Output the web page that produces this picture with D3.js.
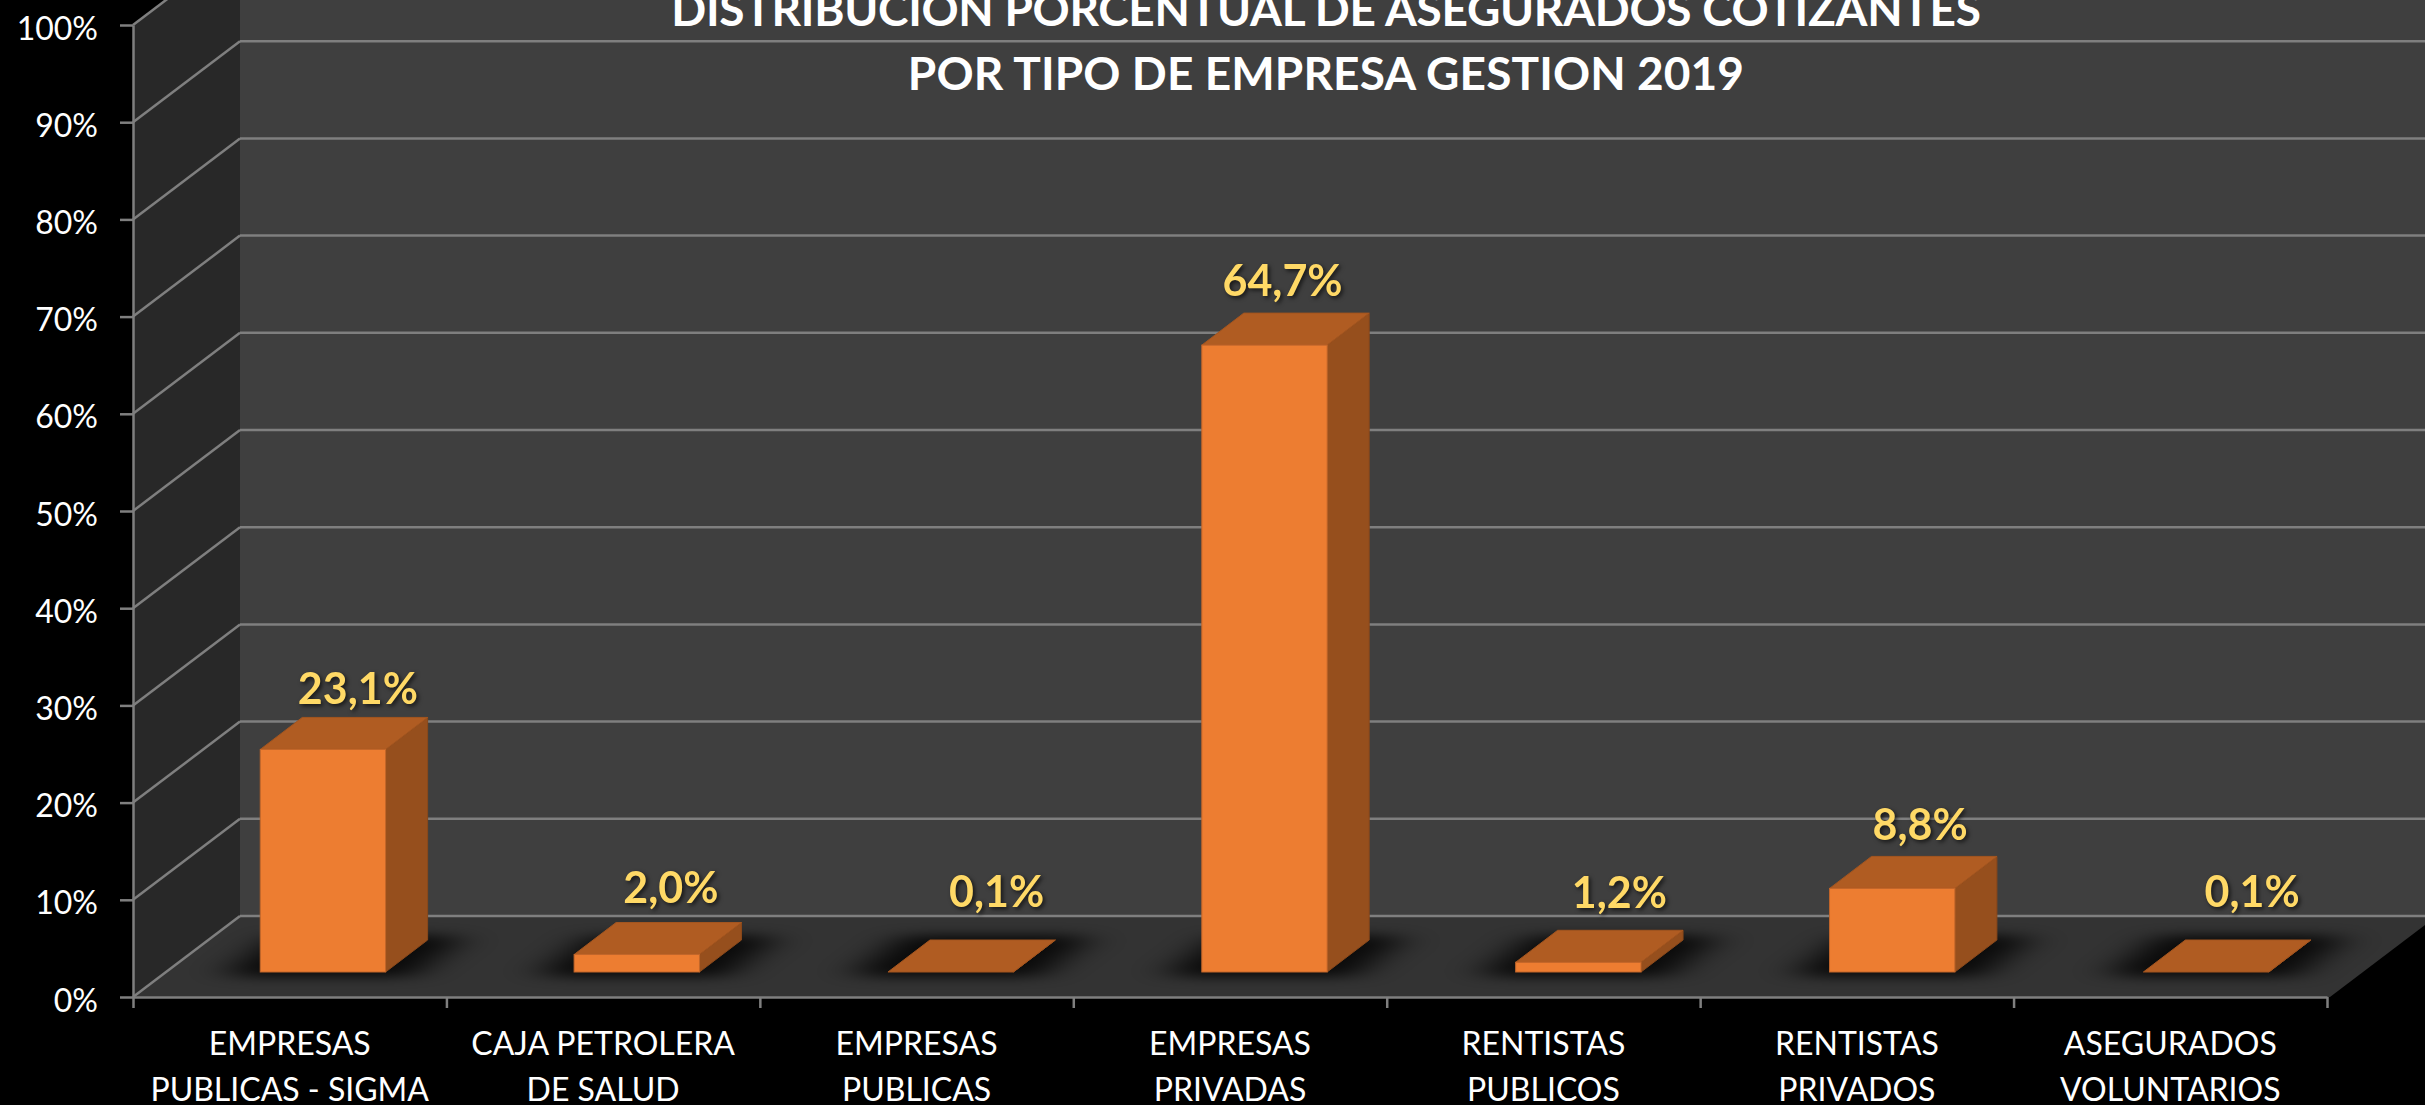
<!DOCTYPE html>
<html>
<head>
<meta charset="utf-8">
<script src="https://cdn.jsdelivr.net/npm/d3@7"></script>
<style>
	html, body { margin: 0; padding: 0; background: #000; overflow: hidden; }
	svg { display: block; }
	text { font-family: Lato, 'Open Sans', sans-serif; }
	.axis path, .axis line { stroke: #7f7f7f; stroke-width: 2.5; }
	.axis text { fill: #fff; font-size: 32px; }
</style>
</head>
<body>
<div id="chart"></div>
<script>
var categories = [
	['EMPRESAS', 'PUBLICAS - SIGMA'],
	['CAJA PETROLERA', 'DE SALUD'],
	['EMPRESAS', 'PUBLICAS'],
	['EMPRESAS', 'PRIVADAS'],
	['RENTISTAS', 'PUBLICOS'],
	['RENTISTAS', 'PRIVADOS'],
	['ASEGURADOS', 'VOLUNTARIOS']
];
var values = [23.1, 2.0, 0.1, 64.7, 1.2, 8.8, 0.1];
var valueLabels = ['23,1%', '2,0%', '0,1%', '64,7%', '1,2%', '8,8%', '0,1%'];
var yTicks = [0, 10, 20, 30, 40, 50, 60, 70, 80, 90, 100];
var titleLines = ['DISTRIBUCION PORCENTUAL DE ASEGURADOS COTIZANTES', 'POR TIPO DE EMPRESA GESTION 2019'];

var svg = d3.select('#chart').append('svg')
	.attr('width', 2425)
	.attr('height', 1105);

// Dimensions
var left = 133, right = 2327, bottom = 997, top100 = 25;
var wallDx = 107, wallDy = 81;    // depth of the 3d box
var barDx = 42, barDy = 32;       // depth of one bar
var barShiftY = 25;               // bars stand this far inside the floor

// Scales
var x = d3.scaleBand().domain(d3.range(categories.length)).range([left, right]);
var xBar = d3.scaleBand().domain(d3.range(categories.length)).range([left + 33, right + 36]);
var xEdge = d3.scaleLinear().domain([0, categories.length]).range([left, right]);
var y = d3.scaleLinear().domain([0, 100]).range([bottom, top100]);
// the smallest bars have no front face at all in the original
var yBar = d3.scaleLinear().domain([0.2, 100]).range([bottom - barShiftY, top100 - barShiftY + 2]).clamp(true);
var barWidth = x.bandwidth() * 0.4;
var path = d3.line();

// Walls and floor
svg.append('path')
	.attr('fill', '#282828')
	.attr('d', path([[left, y(100)], [left + wallDx, y(100) - wallDy], [left + wallDx, y(0) - wallDy], [left, y(0)]]) + 'Z');
svg.append('path')
	.attr('fill', '#3f3f3f')
	.attr('d', path([[left + wallDx, y(100) - wallDy], [2440, y(100) - wallDy], [2440, y(0) - wallDy], [left + wallDx, y(0) - wallDy]]) + 'Z');
svg.append('path')
	.attr('fill', '#333333')
	.attr('d', path([[left, y(0)], [left + wallDx, y(0) - wallDy], [right + 3 + wallDx, y(0) - wallDy], [right + 3, y(0)]]) + 'Z');

// Gridlines
var grid = svg.append('g').attr('fill', 'none').attr('stroke', '#7f7f7f').attr('stroke-width', 2.5);
grid.selectAll('.back')
	.data(yTicks)
	.enter().append('line')
		.attr('x1', left + wallDx)
		.attr('x2', 2440)
		.attr('y1', function(d) { return y(d) - wallDy; })
		.attr('y2', function(d) { return y(d) - wallDy; });
grid.selectAll('.side')
	.data(yTicks)
	.enter().append('line')
		.attr('x1', left)
		.attr('x2', left + wallDx)
		.attr('y1', function(d) { return y(d); })
		.attr('y2', function(d) { return y(d) - wallDy; });

// Shadows under the bars
var defs = svg.append('defs');
defs.append('filter').attr('id', 'blur')
	.attr('filterUnits', 'userSpaceOnUse')
	.attr('x', 0).attr('y', 880).attr('width', 2425).attr('height', 125)
	.append('feGaussianBlur').attr('stdDeviation', '20 6');

function barX(i) {
	return xBar(i) + xBar.bandwidth() / 2 - barWidth / 2;
}

svg.append('g').selectAll('path')
	.data(values)
	.enter().append('path')
		.attr('fill', '#000')
		.attr('stroke', '#000')
		.attr('stroke-width', 10)
		.attr('stroke-linejoin', 'round')
		.attr('opacity', 0.8)
		.attr('filter', 'url(#blur)')
		.attr('d', function(d, i) {
			var x0 = barX(i) - 24, x1 = barX(i) + barWidth + 24, b = yBar(0);
			return path([[x0, b], [x1, b], [x1 + barDx, b - barDy], [x0 + barDx, b - barDy]]) + 'Z';
		});

// Bars
var bars = svg.append('g').selectAll('g')
	.data(values)
	.enter().append('g')
		.attr('stroke-width', 1);

bars.append('path')
	.attr('fill', '#964f1d')
	.attr('stroke', '#8a481a')
	.attr('d', function(d, i) {
		var x1 = barX(i) + barWidth, b = yBar(0), t = yBar(d);
		return path([[x1, b], [x1, t], [x1 + barDx, t - barDy], [x1 + barDx, b - barDy]]) + 'Z';
	});
bars.append('path')
	.attr('fill', '#b05c22')
	.attr('stroke', '#a3551f')
	.attr('d', function(d, i) {
		var x0 = barX(i), t = yBar(d);
		return path([[x0, t], [x0 + barWidth, t], [x0 + barWidth + barDx, t - barDy], [x0 + barDx, t - barDy]]) + 'Z';
	});
bars.append('rect')
	.attr('fill', '#ed7d31')
	.attr('stroke', '#c2662a')
	.attr('x', function(d, i) { return barX(i); })
	.attr('y', function(d) { return yBar(d); })
	.attr('width', barWidth)
	.attr('height', function(d) { return yBar(0) - yBar(d); });

// Y Axis
var yAxis = svg.append('g')
	.attr('class', 'axis')
	.attr('transform', 'translate(' + left + ',0)')
	.call(d3.axisLeft(y).tickValues(yTicks).tickSize(13).tickSizeOuter(0).tickPadding(22).tickFormat(function(d) { return d + '%'; }));
yAxis.selectAll('text').attr('dy', 14);

// X Axis, ticks sit on the band edges
svg.append('g')
	.attr('class', 'axis')
	.attr('transform', 'translate(0,' + bottom + ')')
	.call(d3.axisBottom(xEdge).tickValues(d3.range(categories.length + 1)).tickSize(11).tickSizeOuter(0).tickFormat(''));

var catLabels = svg.append('g').selectAll('text')
	.data(categories)
	.enter().append('text')
		.attr('fill', '#fff')
		.attr('font-size', 32)
		.attr('text-anchor', 'middle');
catLabels.selectAll('tspan')
	.data(function(d, i) { return d.map(function(t) { return {t: t, i: i}; }); })
	.enter().append('tspan')
		.attr('x', function(d) { return x(d.i) + x.bandwidth() / 2; })
		.attr('y', function(d, k) { return 1055 + k * 46; })
		.text(function(d) { return d.t; });

// Value labels, moved by hand in the original
var labelNudge = [35, 34, 46, 18, 41, 28, 46];
var labelLift = [13, 20, 33, 17, 22, 16, 33];
svg.append('g').selectAll('text')
	.data(values)
	.enter().append('text')
		.attr('fill', '#ffd966')
		.attr('font-size', 43)
		.attr('font-weight', 700)
		.attr('text-anchor', 'middle')
		.style('filter', 'drop-shadow(2px 2px 2px rgba(0,0,0,0.65))')
		.attr('x', function(d, i) { return xBar(i) + xBar.bandwidth() / 2 + labelNudge[i]; })
		.attr('y', function(d, i) { return yBar(d) - barDy - labelLift[i]; })
		.text(function(d, i) { return valueLabels[i]; });

// Title
var titleSpacing = [-0.3, 0.1];
svg.append('g').selectAll('text')
	.data(titleLines)
	.enter().append('text')
		.attr('fill', '#fff')
		.attr('font-size', 46)
		.attr('font-weight', 700)
		.attr('text-anchor', 'middle')
		.attr('letter-spacing', function(d, i) { return titleSpacing[i]; })
		.attr('x', 1326)
		.attr('y', function(d, i) { return 26 + i * 64; })
		.text(function(d) { return d; });
</script>
</body>
</html>
